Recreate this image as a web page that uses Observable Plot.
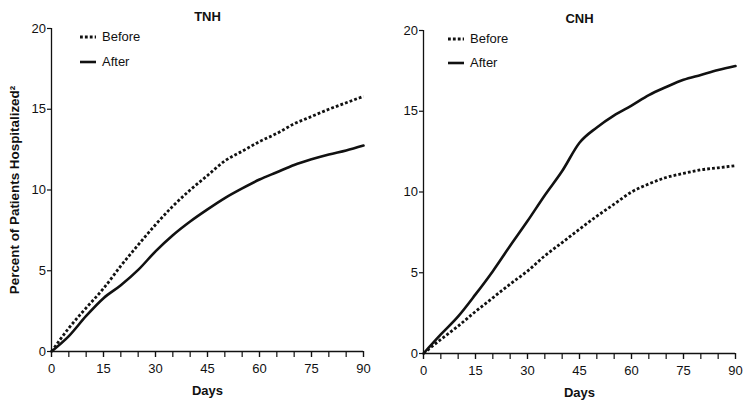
<!DOCTYPE html>
<html>
<head>
<meta charset="utf-8">
<script src="https://cdn.jsdelivr.net/npm/d3@7"></script>
<script src="https://cdn.jsdelivr.net/npm/@observablehq/plot@0.6"></script>
<style>
  body { margin: 0; background: #fff; }
  #chart { position: relative; width: 747px; height: 408px; font-family: "Liberation Sans", Arial, sans-serif; }
  #chart > div.panel { position: absolute; top: 0; }
  .legend { position: absolute; font-size: 13px; color: #111; }
  .legend .row { position: absolute; white-space: nowrap; display: flex; align-items: center; }
  .legend svg { display: block; }
</style>
</head>
<body>
<div id="chart"></div>
<script>
// ---- data ----
const days = [0, 5, 10, 15, 20, 25, 30, 35, 40, 45, 50, 55, 60, 65, 70, 75, 80, 85, 90];
const tnhBefore = [0, 1.45, 2.7, 3.9, 5.3, 6.6, 7.85, 9.0, 10.0, 10.9, 11.8, 12.4, 13.0, 13.5, 14.1, 14.55, 15.0, 15.4, 15.8];
const tnhAfter  = [0, 0.95, 2.2, 3.3, 4.1, 5.05, 6.2, 7.2, 8.05, 8.8, 9.5, 10.1, 10.65, 11.1, 11.55, 11.9, 12.2, 12.45, 12.75];
const cnhBefore = [0, 0.87, 1.7, 2.6, 3.45, 4.3, 5.1, 6.05, 6.87, 7.7, 8.5, 9.25, 10.0, 10.5, 10.9, 11.15, 11.37, 11.5, 11.63];
const cnhAfter  = [0, 1.18, 2.3, 3.66, 5.1, 6.67, 8.2, 9.8, 11.3, 13.05, 14.0, 14.75, 15.35, 16.0, 16.5, 16.95, 17.25, 17.55, 17.8];
const seriesNames = ["Before", "After"];
const panelTitles = ["TNH", "CNH"];
const xTicksMinor = d3.range(0, 91, 5);
const xTicksLabeled = [0, 15, 30, 45, 60, 75, 90];
const yTicks = [0, 5, 10, 15, 20];
const yLabel = "Percent of Patients Hospitalized\u00B2";
const xLabel = "Days";

const ink = "#111";
const dotDash = "2.8,2.1";

function makeRows(before, after) {
  const rows = [];
  days.forEach((d, i) => {
    rows.push({day: d, value: before[i], series: seriesNames[0]});
    rows.push({day: d, value: after[i], series: seriesNames[1]});
  });
  return rows;
}

function panel({title, before, after, width, marginLeft, marginRight, marginTop, marginBottom, showYLabel}) {
  const rows = makeRows(before, after);
  const marks = [
    Plot.ruleY([0], {stroke: ink, strokeWidth: 1.3}),
    Plot.ruleX([0], {stroke: ink, strokeWidth: 1.3}),
    Plot.axisX({ticks: xTicksMinor, tickSize: 6, tickFormat: () => "", stroke: ink, strokeWidth: 1.2, label: null}),
    Plot.axisX({ticks: xTicksLabeled, tickSize: 6, tickPadding: 6, stroke: ink, strokeWidth: 1.2, fill: ink, fontSize: 13, label: null}),
    Plot.axisY({ticks: yTicks, tickSize: 4, tickPadding: 1.5, stroke: ink, strokeWidth: 1.2, fill: ink, fontSize: 13, label: null}),
    Plot.line(rows.filter(r => r.series === "Before"), {x: "day", y: "value", stroke: ink, strokeWidth: 2.8, strokeDasharray: dotDash, strokeLinecap: "butt", curve: "monotone-x"}),
    Plot.line(rows.filter(r => r.series === "After"), {x: "day", y: "value", stroke: ink, strokeWidth: 2.6, curve: "monotone-x"}),
    Plot.text([title], {frameAnchor: "top", dy: -17, text: d => d, fontWeight: "bold", fontSize: 13, fill: ink}),
    Plot.text([xLabel], {frameAnchor: "bottom", dy: 43, text: d => d, fontWeight: "bold", fontSize: 13, fill: ink})
  ];
  if (showYLabel) {
    marks.push(Plot.text([yLabel], {frameAnchor: "left", textAnchor: "middle", dx: -37, rotate: -90, text: d => d, fontWeight: "bold", fontSize: 13.4, fill: ink}));
  }
  return Plot.plot({
    width, height: 408,
    marginLeft, marginRight, marginTop, marginBottom,
    style: {fontFamily: "'Liberation Sans', Arial, sans-serif", background: "#fff", overflow: "visible"},
    x: {domain: [0, 90]},
    y: {domain: [0, 20]},
    marks
  });
}

const chart = document.getElementById("chart");

const left = document.createElement("div");
left.className = "panel";
left.style.left = "0px";
left.appendChild(panel({title: panelTitles[0], before: tnhBefore, after: tnhAfter, width: 380, marginLeft: 51, marginRight: 17, marginTop: 28, marginBottom: 57, showYLabel: true}));
chart.appendChild(left);

const right = document.createElement("div");
right.className = "panel";
right.style.left = "380px";
right.appendChild(panel({title: panelTitles[1], before: cnhBefore, after: cnhAfter, width: 367, marginLeft: 43, marginRight: 12, marginTop: 30, marginBottom: 55, showYLabel: false}));
chart.appendChild(right);

// ---- legends ----
function legend(x, y, gap) {
  const box = document.createElement("div");
  box.className = "legend";
  box.style.left = x + "px";
  box.style.top = y + "px";
  seriesNames.forEach((name, i) => {
    const row = document.createElement("div");
    row.className = "row";
    row.style.top = (i * gap) + "px";
    const svg = d3.create("svg").attr("width", 22).attr("height", 12);
    svg.append("line").attr("x1", 0).attr("x2", 16).attr("y1", 6).attr("y2", 6)
      .attr("stroke", ink).attr("stroke-width", name === "Before" ? 2.8 : 2.6)
      .attr("stroke-dasharray", name === "Before" ? dotDash : null);
    row.appendChild(svg.node());
    const label = document.createElement("span");
    label.textContent = name;
    row.appendChild(label);
    box.appendChild(row);
  });
  chart.appendChild(box);
}
legend(80, 29, 25);
legend(448, 31, 24);
</script>
</body>
</html>
